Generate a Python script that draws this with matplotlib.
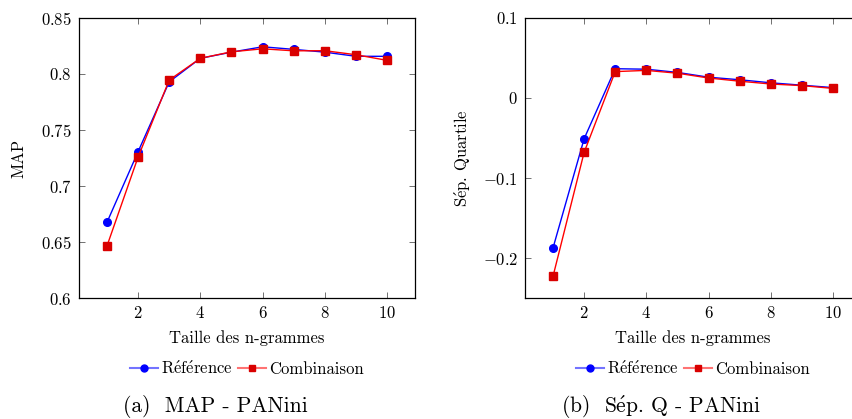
import matplotlib
matplotlib.use("Agg")
import matplotlib.pyplot as plt

plt.rcParams['font.family'] = ['cmr10', 'DejaVu Serif']
plt.rcParams['mathtext.fontset'] = 'cm'
plt.rcParams['axes.unicode_minus'] = True

ngram = [1, 2, 3, 4, 5, 6, 7, 8, 9, 10]
map_ref = [0.6676, 0.7307, 0.793, 0.814, 0.8195, 0.8243, 0.822, 0.8195, 0.8158, 0.8158]
map_comb = [0.6465, 0.7259, 0.7946, 0.814, 0.8198, 0.8225, 0.8207, 0.8208, 0.8172, 0.8122]
sep_ref = [-0.1875, -0.051, 0.0366, 0.036, 0.032, 0.026, 0.0228, 0.019, 0.016, 0.013]
sep_comb = [-0.223, -0.068, 0.033, 0.0345, 0.031, 0.025, 0.021, 0.0175, 0.0155, 0.012]

xticks = [2, 4, 6, 8, 10]
xticklabels = ['$2$', '$4$', '$6$', '$8$', '$10$']
map_yticks = [0.6, 0.65, 0.7, 0.75, 0.8, 0.85]
map_yticklabels = ['$0.6$', '$0.65$', '$0.7$', '$0.75$', '$0.8$', '$0.85$']
sep_yticks = [-0.2, -0.1, 0, 0.1]
sep_yticklabels = ['$-0.2$', '$-0.1$', '$0$', '$0.1$']

E = r'$\mathrm{\acute{e}}$'
xlabel = 'Taille des n-grammes'
labels = ['R' + E + 'f' + E + 'rence', 'Combinaison']
ylabels = ['MAP', 'S' + E + 'p. Quartile']
captions = ['(a)  MAP - PANini', '(b)  S' + E + 'p. Q - PANini']

W, H = 852, 419
fig = plt.figure(figsize=(W / 100, H / 100), dpi=100)

def px_axes(x0, x1, y0, y1):
    return fig.add_axes([x0 / W, 1 - y1 / H, (x1 - x0) / W, (y1 - y0) / H])

ax1 = px_axes(79, 415, 18, 298)
ax2 = px_axes(525, 861, 18, 298)

blue = (0, 0, 1)
red = (1, 0, 0)
red_m = (0.85, 0, 0)
leg_line_colors = [(0.45, 0.45, 1.0), (1.0, 0.45, 0.45)]

def draw(ax, yref, ycomb, yticks, yticklabels, ylim, ylabel, ylab_x):
    ax.plot(ngram, yref, color=blue, lw=1.0, marker='o', markersize=5.5,
            markerfacecolor=blue, markeredgecolor=blue, label=labels[0])
    ax.plot(ngram, ycomb, color=red, lw=1.0, marker='s', markersize=5.5,
            markerfacecolor=red_m, markeredgecolor=red_m, label=labels[1])
    ax.set_xlim(0.1, 10.9)
    ax.set_ylim(*ylim)
    ax.set_xticks(xticks)
    ax.set_xticklabels(xticklabels)
    ax.set_yticks(yticks)
    ax.set_yticklabels(yticklabels)
    ax.tick_params(direction='in', length=4, width=0.7, color='#707070',
                   top=True, right=True, labelsize=12, pad=5)
    for s in ax.spines.values():
        s.set_linewidth(0.9)
    ax.set_xlabel(xlabel, fontsize=12)
    ax.xaxis.set_label_coords(0.5, -0.143)
    ax.xaxis.label.set_va('center')
    ax.set_ylabel(ylabel, fontsize=12)
    ax.yaxis.set_label_coords(ylab_x, 0.5)
    ax.yaxis.label.set_va('center')
    leg = ax.legend(loc='center', bbox_to_anchor=(0.5, -0.25), ncol=2,
                    frameon=False, fontsize=12, handlelength=1.7,
                    handletextpad=0.2, columnspacing=0.3, borderpad=0)
    for h, c in zip(leg.get_lines(), leg_line_colors):
        h.set_color(c)
        h.set_linewidth(1.5)
        h.set_markersize(5)

draw(ax1, map_ref, map_comb, map_yticks, map_yticklabels, (0.6, 0.85), ylabels[0], -0.18)
draw(ax2, sep_ref, sep_comb, sep_yticks, sep_yticklabels, (-0.25, 0.1), ylabels[1], -0.184)

fig.text(215 / W, 1 - 406 / H, captions[0], ha='center', va='center', fontsize=15.5)
fig.text(661 / W, 1 - 406 / H, captions[1], ha='center', va='center', fontsize=15.5)

fig.savefig('out.png', dpi=100)
